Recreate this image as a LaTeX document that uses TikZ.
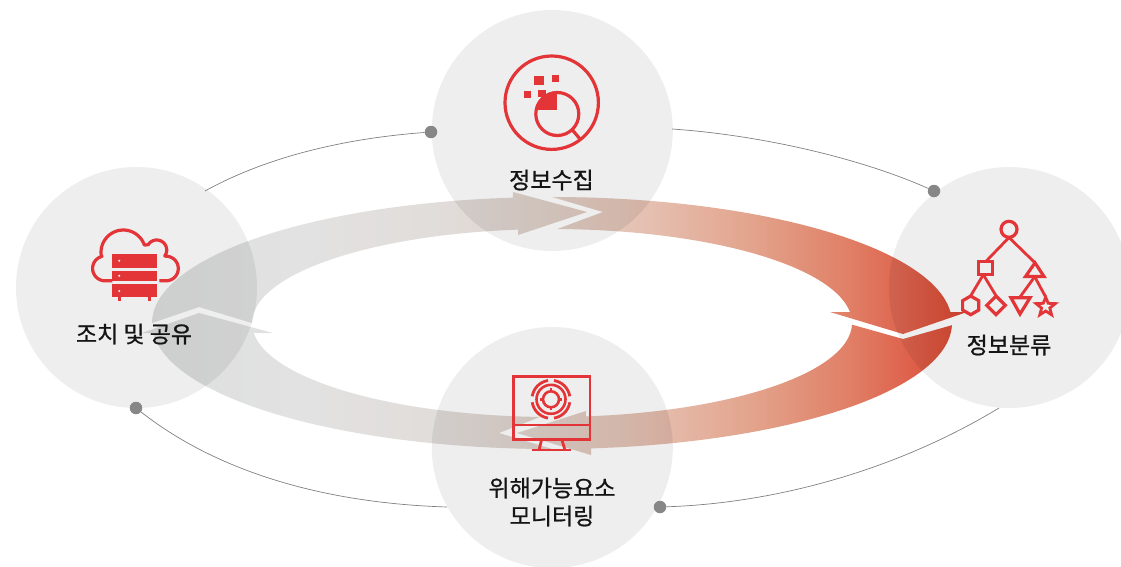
\documentclass[tikz,border=0pt]{standalone}
\usepackage{fontspec}
\newfontfamily\kr[FakeBold=0.9]{Noto Sans CJK KR}
\definecolor{icored}{HTML}{E33538}
\definecolor{disc}{HTML}{EEEEEE}
\definecolor{gA}{HTML}{DDDEDE}\definecolor{gB}{HTML}{E2E2E2}\definecolor{gC}{HTML}{E1DCD9}
\definecolor{gD}{HTML}{DFD0C8}\definecolor{gE}{HTML}{E5BFB0}\definecolor{gF}{HTML}{E3A48D}
\definecolor{gG}{HTML}{E07F66}\definecolor{gH}{HTML}{DF6650}\definecolor{gI}{HTML}{D8452F}
\pgfdeclarehorizontalshading{ringgrad}{100bp}{color(0bp)=(gA); color(25bp)=(gA); color(34.6bp)=(gB); color(43.7bp)=(gC); color(49.8bp)=(gD); color(55.8bp)=(gE); color(61.8bp)=(gF); color(67.9bp)=(gG); color(70.9bp)=(gH); color(75bp)=(gI); color(100bp)=(gI)}
\newcommand\OA[2]{-- plot[domain=#1:#2,samples=50]({552+400*cos(\x)},{323+126*sin(\x)})}
\newcommand\IA[2]{-- plot[domain=#1:#2,samples=50]({552+300*cos(\x)},{323+94*sin(\x)})}
\newcommand\LB[5]{-- plot[domain=#4:#5,samples=24]({#1+#3*cos(\x)},{#2+#3*sin(\x)})}
\newcommand\ringpath{
  (603,212) \OA{270}{355} -- (967,312) -- (903,334) -- (830,312) \IA{353.3}{271} -- cycle
  (903,339) \OA{1}{84.4} -- (591,455) -- (517,433) -- (586,411) \IA{83.5}{1} -- cycle
  (499,433) \OA{90}{175.45} -- (142,333) -- (199,313) -- (273,333) \IA{173.9}{92.3} -- cycle
  (199,307) \OA{180}{264.4} -- (513,192) -- (587,212) -- (518,235) \IA{263.5}{180} -- cycle
}
\tikzset{
  disc node/.style={circle,fill=disc,draw=none,inner sep=0pt,minimum size=241pt},
  pin dot/.style={circle,fill=black!47,draw=none,inner sep=0pt,minimum size=12.5pt},
  link/.style={draw=black!50,line width=0.7pt},
  ico/.style={draw=icored,line width=3.2pt,fill=none,line join=miter},
  lab/.style={font=\kr\fontsize{23}{28}\selectfont,text=black!92,align=center,inner sep=0pt}
}
\begin{document}
\begin{tikzpicture}[x=1pt,y=-1pt]
\useasboundingbox (0,0) rectangle (1121,566);
\clip (0,0) rectangle (1121,566);
% discs
\node[disc node] (top) at (552.3,130.5) {};
\node[disc node] (left) at (136.5,287.5) {};
\node[disc node] (right) at (1009.3,287.5) {};
\node[disc node] (bottom) at (552.3,447.5) {};
% pins and links
\node[pin dot] (p1) at (431,132) {};
\node[pin dot] (p2) at (934,191) {};
\node[pin dot] (p3) at (136,408) {};
\node[pin dot] (p4) at (660,507) {};
\coordinate (c1) at (205,191);
\coordinate (c2) at (672,129);
\coordinate (c3) at (447,507);
\coordinate (c4) at (999,408);
\draw[link] (c1) .. controls (270,155) and (350,138) .. (p1);
\draw[link] (c2) .. controls (760,135) and (860,158) .. (p2);
\draw[link] (p3) .. controls (215,470) and (320,503) .. (c3);
\draw[link] (p4) .. controls (780,503) and (900,468) .. (c4);
% ring
\begin{scope}
  \clip \ringpath;
  \shade[shading=ringgrad] (142,180) rectangle (967,470);
\end{scope}
\foreach \cx/\cy in {552.3/130.5,136.5/287.5,1009.3/287.5,552.3/447.5}{
\begin{scope}
  \clip (\cx,\cy) circle[radius=120.5pt];
  \clip \ringpath;
  \fill[black,opacity=.07] (100,150) rectangle (1000,500);
\end{scope}}
% top icon
\draw[ico] (551.7,102.7) circle[radius=46.7pt];
\fill[icored] (534,76) rectangle (544,85);
\fill[icored] (552,75) rectangle (559,82);
\fill[icored] (524,91) rectangle (531,98);
\fill[icored] (537.7,90) rectangle (546,97);
\begin{scope}
  \clip (557.3,114) circle[radius=22.8pt];
  \fill[icored] (530,85) rectangle (557.3,110);
\end{scope}
\draw[ico] (557.3,114) circle[radius=21.5pt];
\draw[ico] (572,129.5) -- (580,139);
% right icon
\draw[ico] (1009,229.3) circle[radius=8pt];
\draw[ico] (978.5,261.3) rectangle (992.3,274.7);
\draw[ico] (1035,262.8) -- (1025.5,276.5) -- (1044,276.5) -- cycle;
\draw[ico,line width=2.8pt] (1009,237.5) -- (986,261.3);
\draw[ico,line width=2.8pt] (1009,237.5) -- (1035,262.8);
\draw[ico,line width=2.8pt] (983.3,274.7) -- (970.7,295.7);
\draw[ico,line width=2.8pt] (983.3,274.7) -- (996,295.7);
\draw[ico,line width=2.8pt] (1034.7,276.7) -- (1020,297);
\draw[ico,line width=2.8pt] (1034.7,276.7) -- (1045.7,297);
\draw[ico] (970.7,296) -- (978.8,300.7) -- (978.8,310) -- (970.7,314.7) -- (962.6,310) -- (962.6,300.7) -- cycle;
\draw[ico] (996,296) -- (1005.3,305.3) -- (996,314.6) -- (986.7,305.3) -- cycle;
\draw[ico] (1011,297.8) -- (1030,297.8) -- (1020,314) -- cycle;
\draw[ico,line width=2.8pt] (1045.7,297.2) -- (1048.2,303.3) -- (1055.3,303.6) -- (1049.8,308) -- (1051.6,314.8) -- (1045.7,311) -- (1039.8,314.8) -- (1041.6,308) -- (1036.1,303.6) -- (1043.2,303.3) -- cycle;
% bottom icon
\draw[ico,line width=2.8pt] (513.3,376.7) rectangle (590,439.3);
\draw[ico,line width=2.8pt] (513.3,425) -- (590,425);
\draw[ico,line width=2.8pt] (541.7,439.3) -- (539,450);
\draw[ico,line width=2.8pt] (561.7,439.3) -- (565,450);
\draw[ico,line width=2.8pt] (532.3,450) -- (571,450);
\foreach \a in {0,90,180,270}{
  \draw[ico,line width=2.8pt] plot[domain=\a+9:\a+81,samples=16]({551+19*cos(\x)},{399.3+19*sin(\x)});
  \draw[ico,line width=2.8pt] ({551+8*cos(\a)},{399.3+8*sin(\a)}) -- ({551+11*cos(\a)},{399.3+11*sin(\a)});
}
\draw[ico,line width=2.6pt] (551,399.3) circle[radius=14.5pt];
\draw[ico,line width=2.6pt] (551,399.3) circle[radius=8pt];
% left icon
\draw[ico,line join=round] (112.3,280.8) -- (105,280.8) \LB{105}{268.4}{12.4}{90}{256} \LB{123.3}{252.3}{22.3}{173}{341} \LB{156.7}{250}{10}{212}{396} \LB{166}{268.5}{12.3}{270}{450} -- (159.3,280.8);
\fill[icored] (112.3,254) rectangle (156.7,267.7);
\fill[icored] (112.3,270.7) rectangle (156.7,281.3);
\fill[icored] (112.3,284.3) rectangle (156.7,297.3);
\fill[icored] (118,297) rectangle (120.6,301);
\fill[icored] (148,297) rectangle (150.6,301);
\fill[white] (119.3,260.7) circle[radius=1.1pt] (119.3,275.7) circle[radius=1.1pt] (119.3,291) circle[radius=1.1pt];
% labels
\node[lab] (t1) at (551.5,180) {정보수집};
\node[lab] (t2) at (1009,345) {정보분류};
\node[lab] (t3) at (134,334) {조치 및 공유};
\node[lab] (t4) at (552,502) {위해가능요소\\모니터링};
\end{tikzpicture}
\end{document}
